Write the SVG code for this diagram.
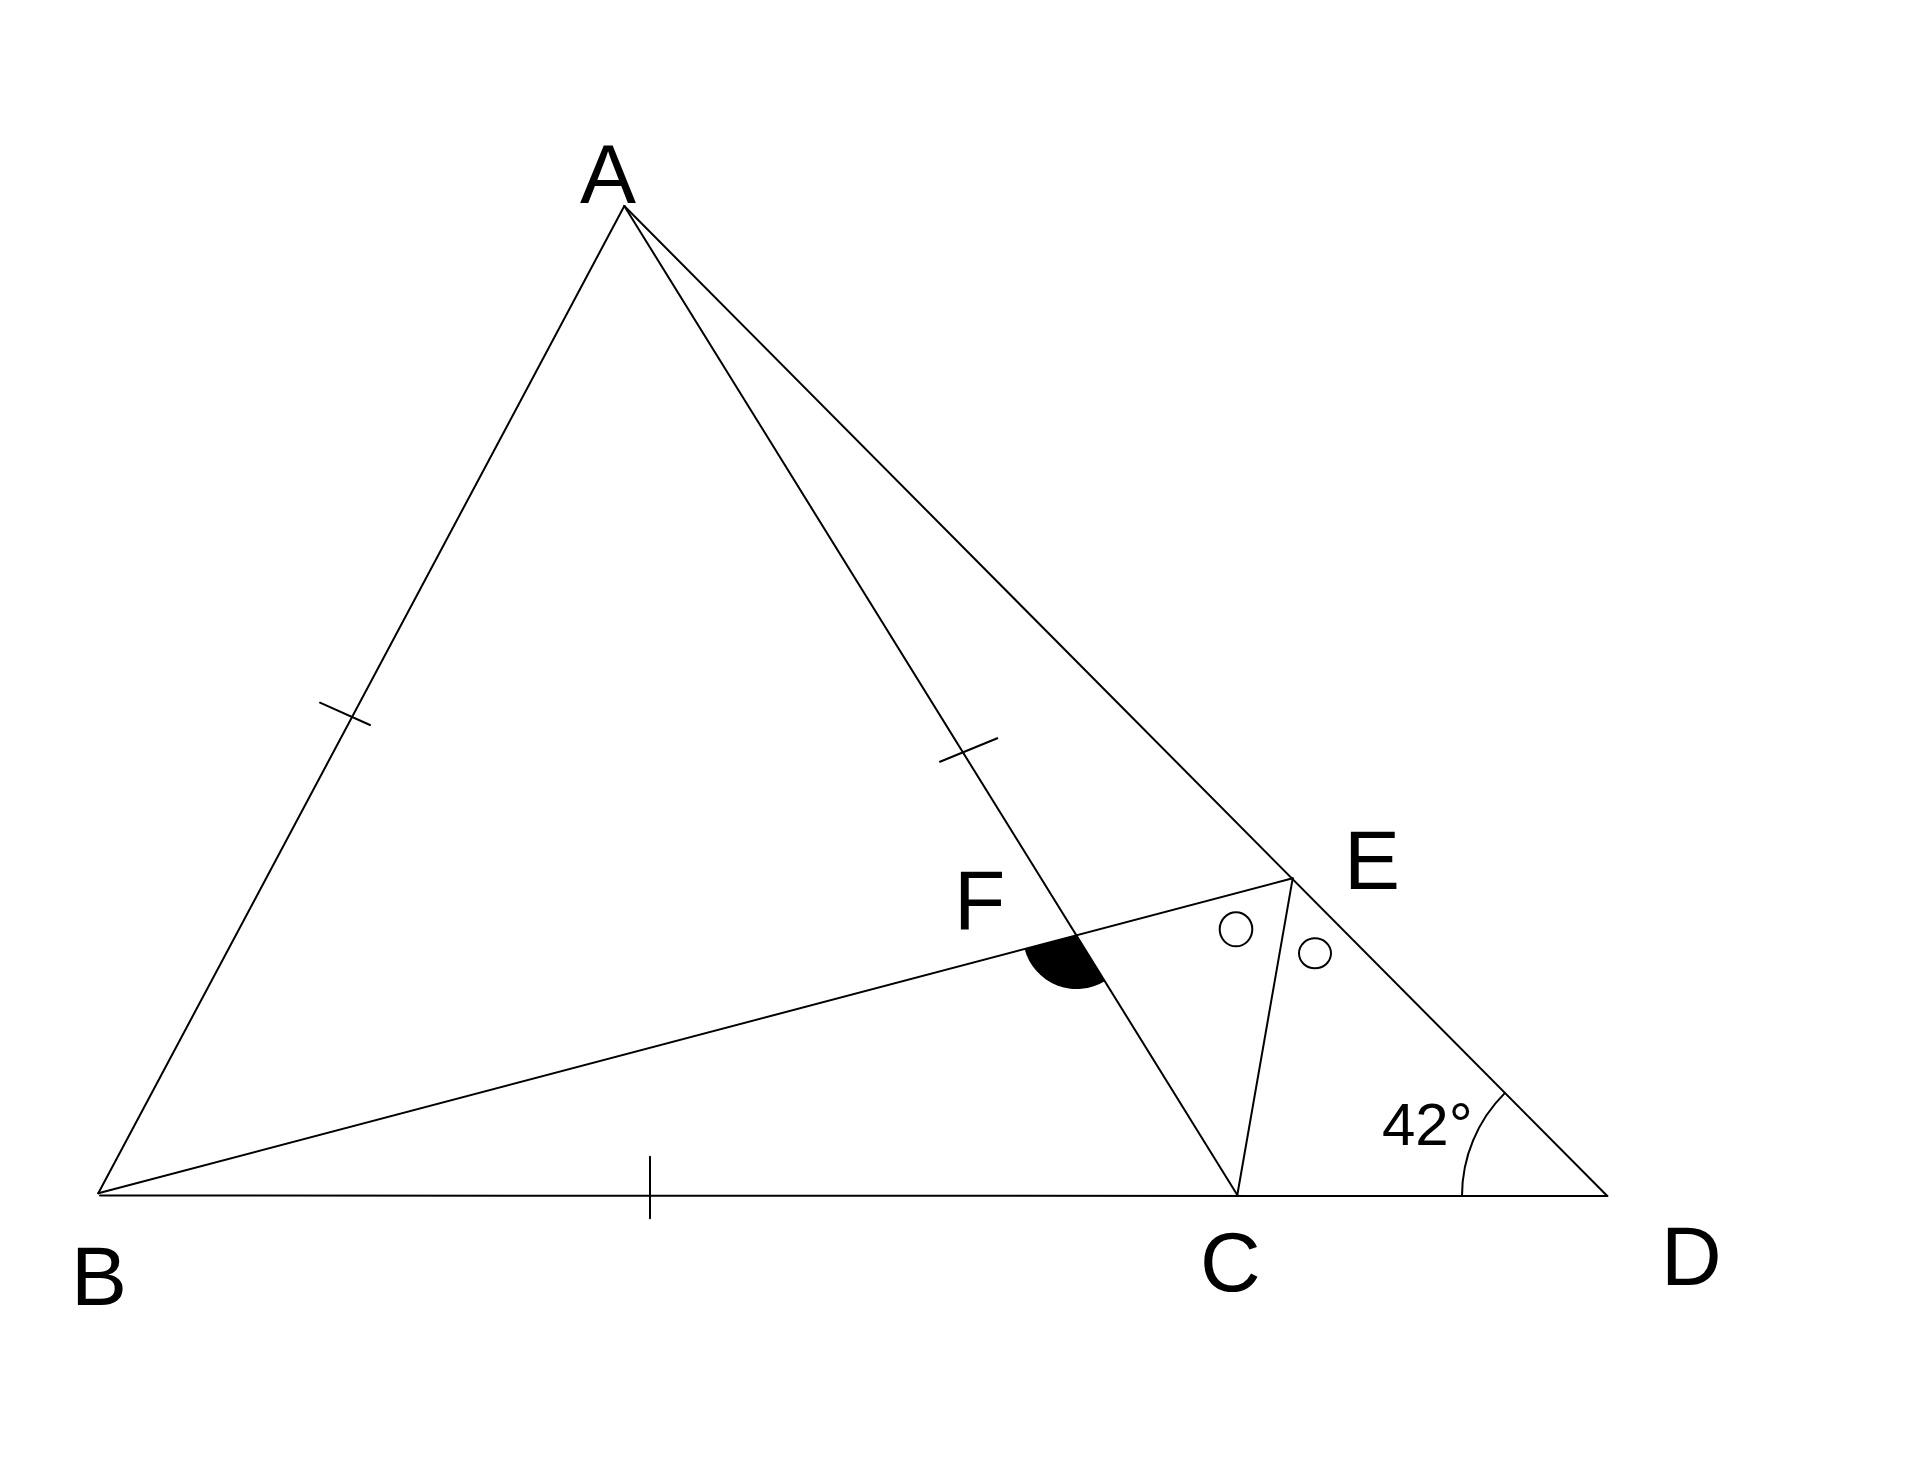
<svg xmlns="http://www.w3.org/2000/svg" width="1920" height="1481" viewBox="0 0 1920 1481">
<style>
.ln{stroke:#000;stroke-width:2;fill:none;stroke-linecap:round}
.lbl{font-family:"Liberation Sans",Arial,sans-serif;font-size:84px;fill:#000}
.ang{font-family:"Liberation Sans",Arial,sans-serif;font-size:60px;fill:#000}
</style>
<rect width="1920" height="1481" fill="#fff"/>
<g id="connectors">
<line class="ln" x1="624.3" y1="206" x2="98.3" y2="1193.3"/>
<line class="ln" x1="624.3" y1="206" x2="1237.3" y2="1195"/>
<line class="ln" x1="624.3" y1="206" x2="1607.3" y2="1196"/>
<line class="ln" x1="100" y1="1195.5" x2="1607.3" y2="1196"/>
<line class="ln" x1="98.3" y1="1193.3" x2="1292.7" y2="878.3"/>
<line class="ln" x1="1237.3" y1="1195" x2="1292.7" y2="878.3"/>
</g>
<g id="marks">
<line class="ln" x1="320" y1="702.7" x2="370" y2="725"/>
<line class="ln" x1="940" y1="761.7" x2="997.3" y2="738.3"/>
<line class="ln" x1="650" y1="1156.7" x2="650" y2="1218.3"/>
<path d="M1076.7 935 L1024.5 948.8 A54 54 0 0 0 1105.1 980.9 Z" fill="#000"/>
<ellipse class="ln" cx="1236" cy="929.3" rx="16.3" ry="17"/>
<ellipse class="ln" cx="1315" cy="953.3" rx="16" ry="15"/>
<path class="ln" d="M1462 1196 A145 145 0 0 1 1504.8 1093.1"/>
</g>
<g id="node-A"><text class="lbl" x="580" y="203">A</text></g>
<g id="node-B"><text class="lbl" x="71" y="1305">B</text></g>
<g id="node-C"><text class="lbl" x="1200" y="1291">C</text></g>
<g id="node-D"><text class="lbl" x="1661" y="1285">D</text></g>
<g id="node-E"><text class="lbl" x="1344" y="889">E</text></g>
<g id="node-F"><text class="lbl" x="954" y="929">F</text></g>
<g id="label-42"><text class="ang" x="1382" y="1145">42°</text></g>
</svg>
